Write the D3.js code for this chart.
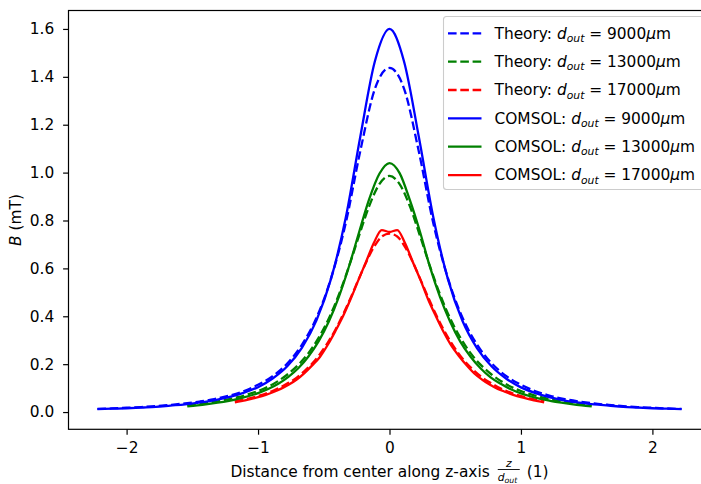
<!DOCTYPE html>
<html>
<head>
<meta charset="utf-8">
<script src="https://cdn.jsdelivr.net/npm/d3@7"></script>
<style>
  body { margin: 0; background: #fff; }
  svg text { font-family: "DejaVu Sans", sans-serif; }
</style>
</head>
<body>
<svg id="chart" width="701" height="484"></svg>
<script>
// Axial position z (mm) of every sample
const zPositions = [-20,-19,-18,-17,-16,-15,-14,-13,-12,-11,-10,-9,-8,-7,-6,-5,-4,-3,-2,-1,0,
                    1,2,3,4,5,6,7,8,9,10,11,12,13,14,15,16,17,18,19,20];

// Outer coil diameters (µm)
const outerDiameters = [9000, 13000, 17000];

// Field magnitude B (mT), analytic model
const theory9000 = [0.013,0.015,0.018,0.021,0.025,0.030,0.036,0.044,0.054,0.068,0.087,0.114,0.150,0.203,0.281,0.394,0.559,0.788,1.090,1.350,
                    1.437,
                    1.350,1.090,0.788,0.559,0.394,0.281,0.203,0.150,0.114,0.087,0.068,0.054,0.044,0.036,0.030,0.025,0.021,0.018,0.015,0.013];
const theory13000 = [0.029,0.033,0.039,0.045,0.053,0.062,0.074,0.088,0.106,0.130,0.160,0.198,0.247,0.311,0.391,0.491,0.609,0.738,0.861,0.952,
                     0.986,
                     0.952,0.861,0.738,0.609,0.491,0.391,0.311,0.247,0.198,0.160,0.130,0.106,0.088,0.074,0.062,0.053,0.045,0.039,0.033,0.029];
const theory17000 = [0.045,0.051,0.058,0.067,0.077,0.090,0.105,0.123,0.144,0.171,0.203,0.242,0.289,0.344,0.408,0.479,0.554,0.627,0.690,0.733,
                     0.745,
                     0.733,0.690,0.627,0.554,0.479,0.408,0.344,0.289,0.242,0.203,0.171,0.144,0.123,0.105,0.090,0.077,0.067,0.058,0.051,0.045];

// Field magnitude B (mT), COMSOL simulation
const comsol9000 = [0.012,0.014,0.016,0.019,0.022,0.027,0.032,0.040,0.049,0.062,0.080,0.104,0.140,0.191,0.268,0.383,0.557,0.810,1.150,1.465,
                    1.600,
                    1.463,1.152,0.814,0.555,0.380,0.266,0.190,0.139,0.103,0.079,0.061,0.048,0.039,0.032,0.027,0.022,0.019,0.016,0.014,0.012];
const comsol13000 = [0.024,0.028,0.033,0.039,0.046,0.055,0.066,0.079,0.096,0.118,0.147,0.184,0.233,0.296,0.378,0.482,0.609,0.752,0.890,0.995,
                     1.040,
                     0.998,0.887,0.755,0.606,0.480,0.377,0.294,0.232,0.183,0.145,0.118,0.095,0.078,0.065,0.055,0.046,0.039,0.033,0.028,0.024];
const comsol17000 = [0.040,0.047,0.054,0.062,0.072,0.084,0.098,0.115,0.136,0.163,0.195,0.230,0.280,0.338,0.401,0.474,0.553,0.630,0.708,0.760,
                     0.752,
                     0.760,0.706,0.628,0.552,0.470,0.400,0.334,0.277,0.233,0.194,0.160,0.135,0.114,0.097,0.084,0.072,0.062,0.054,0.047,0.040];

const xTicks = [-2, -1, 0, 1, 2];
const yTicks = [0.0, 0.2, 0.4, 0.6, 0.8, 1.0, 1.2, 1.4, 1.6];

const seriesList = [
  { kind: "Theory", d: outerDiameters[0], values: theory9000,  color: "#0000ff", dashed: true },
  { kind: "Theory", d: outerDiameters[1], values: theory13000, color: "#008000", dashed: true },
  { kind: "Theory", d: outerDiameters[2], values: theory17000, color: "#ff0000", dashed: true },
  { kind: "COMSOL", d: outerDiameters[0], values: comsol9000,  color: "#0000ff", dashed: false },
  { kind: "COMSOL", d: outerDiameters[1], values: comsol13000, color: "#008000", dashed: false },
  { kind: "COMSOL", d: outerDiameters[2], values: comsol17000, color: "#ff0000", dashed: false }
];

const FS = 15.4;
const LW = 2.3;
const DASH = "8.6,3.7";
const TICK = 5.4;

const svg = d3.select("#chart");

const plot = { left: 68.5, right: 710.5, top: 10.5, bottom: 429.3 };

const x = d3.scaleLinear().domain([-2.442, 2.442]).range([plot.left, plot.right]);
const y = d3.scaleLinear().domain([-0.072, 1.677]).range([plot.bottom, plot.top]);

svg.append("defs").append("clipPath").attr("id", "plotClip")
  .append("rect")
  .attr("x", plot.left).attr("y", plot.top)
  .attr("width", plot.right - plot.left).attr("height", plot.bottom - plot.top);

// Curves
const line = d3.line()
  .x(d => x(d.x))
  .y(d => y(d.b))
  .curve(d3.curveMonotoneX);

const curves = svg.append("g").attr("clip-path", "url(#plotClip)");
seriesList.forEach(s => {
  const pts = zPositions.map((z, i) => ({ x: z * 1000 / s.d, b: s.values[i] }));
  curves.append("path")
    .datum(pts)
    .attr("fill", "none")
    .attr("stroke", s.color)
    .attr("stroke-width", LW)
    .attr("stroke-dasharray", s.dashed ? DASH : null)
    .attr("stroke-linejoin", "round")
    .attr("d", line);
});

// Axes
const xAxis = d3.axisBottom(x).tickValues(xTicks).tickSize(TICK).tickPadding(7.3)
  .tickFormat(d3.format("d"));
const yAxis = d3.axisLeft(y).tickValues(yTicks).tickSize(TICK).tickPadding(8.8)
  .tickFormat(d3.format(".1f"));

const gx = svg.append("g").attr("transform", `translate(0,${plot.bottom})`).call(xAxis);
const gy = svg.append("g").attr("transform", `translate(${plot.left},0)`).call(yAxis);
[gx, gy].forEach(g => {
  g.select(".domain").remove();
  g.selectAll(".tick line").attr("stroke", "#000").attr("stroke-width", 1.2);
  g.selectAll(".tick text").attr("fill", "#000").style("font-size", FS + "px")
    .style("font-family", "'DejaVu Sans', sans-serif");
});

// Frame
svg.append("rect")
  .attr("x", plot.left).attr("y", plot.top)
  .attr("width", plot.right - plot.left).attr("height", plot.bottom - plot.top)
  .attr("fill", "none").attr("stroke", "#000").attr("stroke-width", 1.2);

// Y axis label: B (mT)
const yl = svg.append("text")
  .attr("transform", "translate(21,220) rotate(-90)")
  .attr("text-anchor", "middle")
  .style("font-size", FS + "px").attr("fill", "#000");
yl.append("tspan").style("font-style", "italic").text("B");
yl.append("tspan").text(" (mT)");

// X axis label with z / d_out fraction
const xlBase = 477;
const xlG = svg.append("g");
const t1 = xlG.append("text").attr("y", xlBase).style("font-size", FS + "px").attr("fill", "#000")
  .text("Distance from center along z-axis");
const t2 = xlG.append("text").attr("y", xlBase).style("font-size", FS + "px").attr("fill", "#000")
  .text("(1)");
const w1 = t1.node().getComputedTextLength();
const w2 = t2.node().getComputedTextLength();
const gapL = 7, gapR = 6;
const fracW = 24;
const total = w1 + gapL + fracW + gapR + w2;
const x0 = (plot.left + plot.right) / 2 - total / 2;
t1.attr("x", x0);
const fx = x0 + w1 + gapL;
t2.attr("x", fx + fracW + gapR);
const SFS = FS * 0.7;
xlG.append("text").attr("x", fx + fracW / 2).attr("y", xlBase - 10.5)
  .attr("text-anchor", "middle").style("font-size", SFS + "px").style("font-style", "italic")
  .attr("fill", "#000").text("z");
xlG.append("line").attr("x1", fx + 1).attr("x2", fx + fracW - 1)
  .attr("y1", xlBase - 7.5).attr("y2", xlBase - 7.5).attr("stroke", "#000").attr("stroke-width", 0.9);
const den = xlG.append("text").attr("x", fx + 1).attr("y", xlBase + 3.5)
  .style("font-size", SFS + "px").style("font-style", "italic").attr("fill", "#000");
den.append("tspan").text("d");
den.append("tspan").attr("dy", 2).style("font-size", (SFS * 0.72) + "px").text("out");

// Legend
const lg = svg.append("g");
lg.append("rect")
  .attr("x", 443.5).attr("y", 16.5).attr("width", 272).attr("height", 173).attr("rx", 3)
  .attr("fill", "#fff").attr("fill-opacity", 0.8)
  .attr("stroke", "#cccccc").attr("stroke-width", 1.1);
const rowY0 = 33.3, rowStep = 28.35;
seriesList.forEach((s, i) => {
  const ry = rowY0 + i * rowStep;
  lg.append("line")
    .attr("x1", 448).attr("x2", 481.5).attr("y1", ry).attr("y2", ry)
    .attr("stroke", s.color).attr("stroke-width", LW)
    .attr("stroke-dasharray", s.dashed ? DASH : null);
  const t = lg.append("text").attr("x", 494.5).attr("y", ry + 5.3)
    .style("font-size", FS + "px").attr("fill", "#000");
  t.append("tspan").text(s.kind + ": ");
  t.append("tspan").style("font-style", "italic").text("d");
  t.append("tspan").attr("dy", 3.2).style("font-style", "italic").style("font-size", (FS * 0.7) + "px").text("out");
  t.append("tspan").attr("dy", -3.2).text(" = " + s.d);
  t.append("tspan").style("font-style", "italic").text("\u03bc");
  t.append("tspan").text("m");
});
</script>
</body>
</html>
